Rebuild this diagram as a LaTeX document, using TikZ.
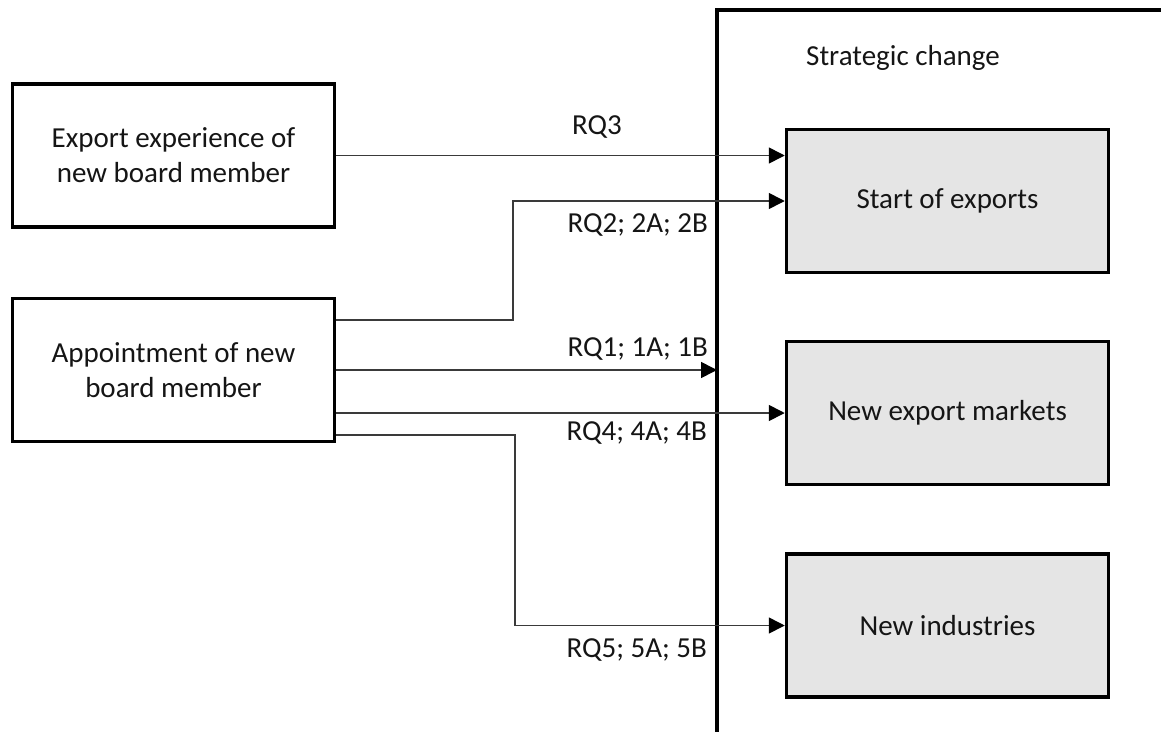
\documentclass[tikz,border=0pt]{standalone}
\usepackage{fontspec}
\setmainfont{Carlito}
\usetikzlibrary{arrows.meta,calc}
\definecolor{boxgray}{HTML}{E5E5E5}
\definecolor{linegray}{HTML}{3A3A3A}
\definecolor{txt}{HTML}{151515}
\tikzset{
  plainbox/.style={draw=black, line width=3.5pt, fill=white, minimum width=322pt, minimum height=143pt, inner sep=0pt, align=center, text=txt, font=\fontsize{29}{35}\selectfont},
  graybox/.style={plainbox, fill=boxgray},
  conn/.style={draw=linegray, line width=1.6pt, -{Triangle[length=16pt,width=16pt,color=black]}},
  lbl/.style={text=txt, font=\fontsize{29}{33}\selectfont, inner sep=0pt},
  frame/.style={draw=black, line width=3.5pt}
}
\begin{document}
\begin{tikzpicture}[x=1pt,y=-1pt]
\useasboundingbox (0,0) rectangle (1161,731);
% container frame (open beyond the picture)
\coordinate (cbl) at (717,740);
\coordinate (ctl) at (717,10);
\coordinate (ctr) at (1170,10);
\draw[frame] (cbl) -- (ctl) -- (ctr);
\node[lbl, anchor=west] (sc) at (806,58) {Strategic change};

% left boxes
\node[plainbox] (b1) at (173.5,155.5) {Export experience of\\new board member};
\node[plainbox] (b2) at (173.5,370) {Appointment of new\\board member};

% gray boxes
\node[graybox] (g1) at (947.5,201) {Start of exports};
\node[graybox] (g2) at (947.5,413) {New export markets};
\node[graybox] (g3) at (947.5,625.5) {New industries};

% connectors
\coordinate (s2) at ($(b2.east)+(0,-50)$);
\coordinate (s4) at ($(b2.east)+(0,43)$);
\coordinate (s5) at ($(b2.east)+(0,65)$);
\coordinate (k2) at (513,320);
\coordinate (k5) at (515,435);

\draw[conn] (b1.east) -- (b1.east -| g1.west);
\draw[conn] (s2) -- (k2) |- (g1.west);
\draw[conn] (b2.east) -- (b2.east -| ctl);
\draw[conn] (s4) -- (s4 -| g2.west);
\draw[conn] (s5) -- (k5) |- (g3.west);

% labels
\node[lbl] (l3) at (597,127) {RQ3};
\node[lbl, anchor=east] (l2) at (708,225) {RQ2; 2A; 2B};
\node[lbl, anchor=east] (l1) at (708,349) {RQ1; 1A; 1B};
\node[lbl, anchor=east] (l4) at (707,433) {RQ4; 4A; 4B};
\node[lbl, anchor=east] (l5) at (707,650) {RQ5; 5A; 5B};
\end{tikzpicture}
\end{document}
